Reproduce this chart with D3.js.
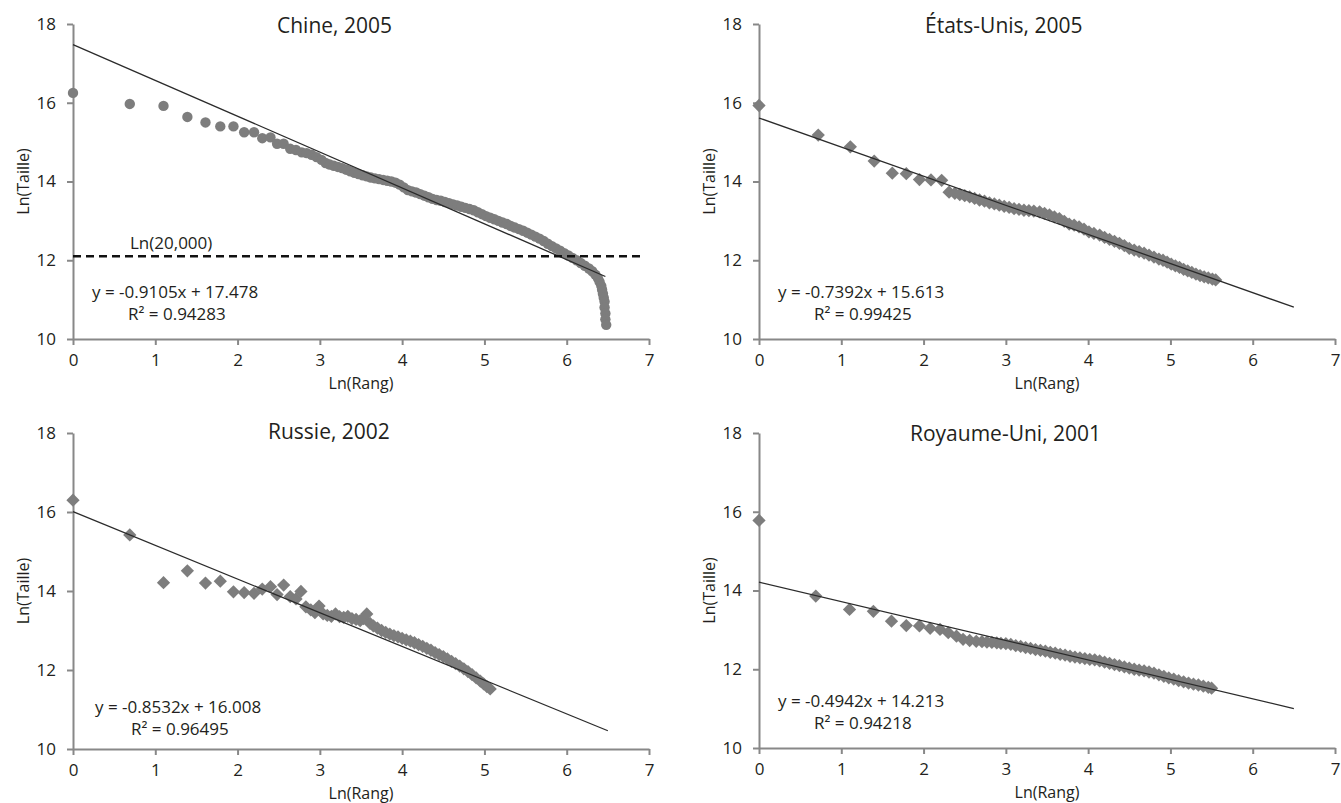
<!DOCTYPE html>
<html>
<head>
<meta charset="utf-8">
<script src="https://cdn.jsdelivr.net/npm/d3@7"></script>
<style>
  body { margin: 0; background: #fff; }
  text { font-family: "Open Sans", sans-serif; fill: #231f20; }
  .axis path, .axis line { stroke: #888; stroke-width: 2; }
  .axis text { font-size: 17px; }
</style>
</head>
<body>
<script>
// ln(rank), ln(size)
var chinaPts = [[0,16.25],[0.69,15.97],[1.10,15.92],[1.39,15.64],[1.61,15.50],[1.79,15.40],[1.95,15.40],[2.08,15.25],[2.20,15.25],[2.30,15.10],[2.40,15.12],[2.48,14.96],[2.56,14.96],[2.64,14.83],[2.71,14.80],[2.78,14.74],[2.84,14.72],[2.90,14.68],[2.96,14.62],[3.02,14.55],[3.07,14.47],[3.12,14.43],[3.17,14.40],[3.22,14.37],[3.27,14.34],[3.32,14.30],[3.37,14.26],[3.42,14.22],[3.47,14.19],[3.52,14.16],[3.57,14.13],[3.62,14.10],[3.67,14.08],[3.72,14.06],[3.77,14.04],[3.82,14.02],[3.87,14.00],[3.92,13.97],[3.97,13.92],[4.02,13.85],[4.07,13.78],[4.12,13.75],[4.17,13.72],[4.22,13.68],[4.27,13.64],[4.32,13.60],[4.37,13.56],[4.42,13.53],[4.47,13.51],[4.52,13.48],[4.57,13.45],[4.62,13.42],[4.67,13.39],[4.72,13.36],[4.77,13.33],[4.82,13.30],[4.87,13.27],[4.92,13.22],[4.97,13.17],[5.02,13.12],[5.07,13.08],[5.12,13.04],[5.17,13.00],[5.22,12.96],[5.27,12.92],[5.32,12.87],[5.37,12.83],[5.42,12.79],[5.47,12.75],[5.52,12.70],[5.57,12.65],[5.62,12.60],[5.67,12.55],[5.72,12.49],[5.77,12.42],[5.82,12.36],[5.87,12.30],[5.92,12.24],[5.97,12.18],[6.02,12.12],[6.07,12.06],[6.12,12.00],[6.17,11.93],[6.22,11.86],[6.27,11.79],[6.31,11.72],[6.35,11.63],[6.38,11.54],[6.40,11.45],[6.42,11.35],[6.43,11.25],[6.44,11.15],[6.45,11.05],[6.46,10.95],[6.46,10.80],[6.47,10.65],[6.47,10.50],[6.48,10.36]];

var usPts = [[0,15.93],[0.72,15.18],[1.11,14.88],[1.40,14.52],[1.62,14.21],[1.79,14.20],[1.95,14.05],[2.09,14.04],[2.22,14.03],[2.31,13.73],[2.38,13.70],[2.44,13.67],[2.50,13.64],[2.56,13.61],[2.62,13.57],[2.68,13.53],[2.74,13.50],[2.80,13.46],[2.86,13.43],[2.92,13.40],[2.98,13.37],[3.04,13.34],[3.10,13.31],[3.16,13.29],[3.22,13.27],[3.28,13.26],[3.34,13.25],[3.41,13.23],[3.47,13.19],[3.53,13.15],[3.59,13.10],[3.65,13.06],[3.71,12.99],[3.77,12.92],[3.83,12.89],[3.89,12.85],[3.95,12.79],[4.01,12.72],[4.07,12.68],[4.14,12.64],[4.20,12.58],[4.26,12.53],[4.32,12.48],[4.38,12.43],[4.44,12.37],[4.50,12.30],[4.56,12.26],[4.62,12.22],[4.68,12.18],[4.74,12.13],[4.80,12.08],[4.86,12.03],[4.91,12.00],[4.96,11.95],[5.01,11.90],[5.06,11.86],[5.11,11.82],[5.16,11.77],[5.21,11.73],[5.26,11.69],[5.31,11.65],[5.36,11.61],[5.41,11.58],[5.46,11.55],[5.51,11.52],[5.55,11.50]];

var russiaPts = [[0,16.30],[0.69,15.42],[1.10,14.21],[1.39,14.51],[1.61,14.20],[1.79,14.25],[1.95,13.98],[2.08,13.96],[2.20,13.94],[2.30,14.05],[2.40,14.11],[2.48,13.91],[2.56,14.15],[2.64,13.86],[2.71,13.80],[2.77,13.99],[2.83,13.60],[2.89,13.52],[2.94,13.45],[2.99,13.62],[3.04,13.42],[3.09,13.38],[3.14,13.36],[3.19,13.42],[3.24,13.35],[3.29,13.33],[3.34,13.36],[3.39,13.30],[3.44,13.28],[3.49,13.25],[3.53,13.30],[3.57,13.42],[3.61,13.18],[3.65,13.12],[3.70,13.06],[3.75,13.00],[3.80,12.95],[3.85,12.91],[3.90,12.87],[3.95,12.84],[4.00,12.80],[4.05,12.76],[4.10,12.73],[4.15,12.69],[4.20,12.64],[4.25,12.60],[4.30,12.55],[4.35,12.50],[4.40,12.44],[4.45,12.39],[4.50,12.34],[4.55,12.28],[4.60,12.22],[4.65,12.16],[4.70,12.10],[4.75,12.03],[4.80,11.96],[4.85,11.88],[4.90,11.80],[4.95,11.72],[4.99,11.65],[5.03,11.58],[5.07,11.52]];

var ukPts = [[0,15.78],[0.69,13.86],[1.10,13.52],[1.39,13.47],[1.61,13.22],[1.79,13.11],[1.95,13.10],[2.08,13.04],[2.20,13.01],[2.30,12.93],[2.40,12.84],[2.48,12.76],[2.56,12.73],[2.64,12.71],[2.71,12.70],[2.77,12.69],[2.83,12.68],[2.89,12.67],[2.94,12.66],[3.00,12.65],[3.06,12.63],[3.12,12.60],[3.18,12.58],[3.24,12.55],[3.30,12.53],[3.36,12.50],[3.42,12.48],[3.48,12.46],[3.54,12.43],[3.60,12.41],[3.66,12.38],[3.72,12.36],[3.78,12.33],[3.84,12.31],[3.90,12.29],[3.96,12.27],[4.02,12.25],[4.08,12.24],[4.14,12.21],[4.20,12.18],[4.26,12.15],[4.32,12.12],[4.38,12.09],[4.44,12.06],[4.50,12.03],[4.56,12.00],[4.62,11.98],[4.68,11.96],[4.74,11.93],[4.80,11.90],[4.86,11.86],[4.92,11.82],[4.98,11.78],[5.04,11.75],[5.10,11.71],[5.16,11.68],[5.22,11.65],[5.28,11.62],[5.34,11.60],[5.40,11.57],[5.46,11.54],[5.50,11.52]];

// regression fits shown in the picture
var titles = ['Chine, 2005', 'États-Unis, 2005', 'Russie, 2002', 'Royaume-Uni, 2001'];
var slopes = [-0.9105, -0.7392, -0.8532, -0.4942];
var intercepts = [17.478, 15.613, 16.008, 14.213];
var r2 = ['0.94283', '0.99425', '0.96495', '0.94218'];
var fitEnd = [6.47, 6.5, 6.5, 6.5];
var xTicks = [0, 1, 2, 3, 4, 5, 6, 7];
var yTicks = [10, 12, 14, 16, 18];
var threshold = 12.1; // Ln(20,000) line, China panel

var allPts = [chinaPts, usPts, russiaPts, ukPts];

var svg = d3.select('body').append('svg')
    .attr('width', 1341)
    .attr('height', 803);

// panel frames: left x, top y, bottom y
var panels = [
    {left: 73, top: 24, bottom: 339, titleX: 277, titleY: 33, eqY: 298, marker: 'circle'},
    {left: 759, top: 24, bottom: 339, titleX: 925, titleY: 33, eqY: 298, marker: 'diamond'},
    {left: 73, top: 433, bottom: 749, titleX: 268, titleY: 439, eqY: 713, marker: 'diamond'},
    {left: 759, top: 433, bottom: 748, titleX: 910, titleY: 441, eqY: 707, marker: 'diamond'}
];

panels.forEach(function(p, i) {
    var g = svg.append('g');
    var x = d3.scaleLinear().domain([0, 7]).range([p.left, p.left + 576]);
    var y = d3.scaleLinear().domain([10, 18]).range([p.bottom, p.top]);

    // axes
    g.append('g')
        .attr('class', 'axis')
        .attr('transform', 'translate(0,' + p.bottom + ')')
        .call(d3.axisBottom(x).tickValues(xTicks).tickFormat(d3.format('d')).tickSize(6).tickPadding(9).tickSizeOuter(0));
    g.append('g')
        .attr('class', 'axis')
        .attr('transform', 'translate(' + p.left + ',0)')
        .call(d3.axisLeft(y).tickValues(yTicks).tickFormat(d3.format('d')).tickSize(6).tickPadding(11).tickSizeOuter(0));

    // points
    var pts = allPts[i];
    if (p.marker == 'circle') {
        g.selectAll('.pt').data(pts).enter()
            .append('circle')
            .attr('cx', d => x(d[0]))
            .attr('cy', d => y(d[1]))
            .attr('r', 5.2)
            .attr('fill', '#7d7d7d');
    } else {
        var sym = d3.symbol().type(d3.symbolSquare).size(88);
        g.selectAll('.pt').data(pts).enter()
            .append('path')
            .attr('d', sym)
            .attr('transform', d => 'translate(' + x(d[0]) + ',' + y(d[1]) + ') rotate(45)')
            .attr('fill', '#7d7d7d');
    }

    // trend line
    g.append('line')
        .attr('x1', x(0))
        .attr('y1', y(intercepts[i]))
        .attr('x2', x(fitEnd[i]))
        .attr('y2', y(intercepts[i] + slopes[i] * fitEnd[i]))
        .attr('stroke', '#2b2b2b')
        .attr('stroke-width', 1.3);

    // title
    g.append('text')
        .attr('x', p.titleX)
        .attr('y', p.titleY)
        .attr('font-size', 21)
        .text(titles[i]);

    // equation
    var eqOffset = i == 2 ? 22 : 19;
    g.append('text')
        .attr('x', p.left + eqOffset)
        .attr('y', p.eqY)
        .attr('font-size', 17)
        .text('y = ' + slopes[i].toFixed(4) + 'x + ' + intercepts[i].toFixed(3));
    g.append('text')
        .attr('x', p.left + eqOffset + 36)
        .attr('y', p.eqY + 22)
        .attr('font-size', 17)
        .text('R² = ' + r2[i]);

    // axis titles
    g.append('text')
        .attr('x', p.left + 288)
        .attr('y', p.bottom + 50)
        .attr('text-anchor', 'middle')
        .attr('font-size', 16)
        .text('Ln(Rang)');
    g.append('text')
        .attr('transform', 'translate(' + (p.left - 44) + ',' + ((p.top + p.bottom) / 2) + ') rotate(-90)')
        .attr('text-anchor', 'middle')
        .attr('font-size', 16)
        .text('Ln(Taille)');

    // China: Ln(20,000) threshold
    if (i == 0) {
        g.append('line')
            .attr('x1', x(0))
            .attr('x2', x(6.95))
            .attr('y1', y(threshold))
            .attr('y2', y(threshold))
            .attr('stroke', '#111')
            .attr('stroke-width', 2.5)
            .attr('stroke-dasharray', '8,5');
        g.append('text')
            .attr('x', 130)
            .attr('y', y(threshold) - 7)
            .attr('font-size', 17)
            .text('Ln(20,000)');
    }
});
</script>
</body>
</html>
